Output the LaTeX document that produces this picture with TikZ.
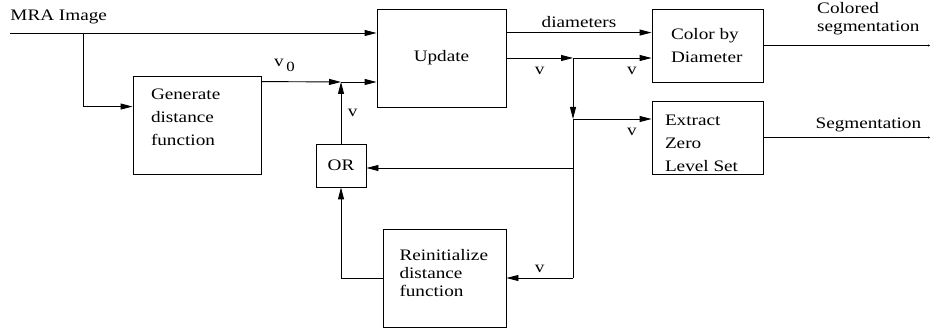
\documentclass[tikz,border=0pt]{standalone}
\usepackage{fontspec}
\setmainfont{Liberation Serif}[FakeStretch=1.2]
\usepackage{tikz}
\usetikzlibrary{arrows.meta, positioning, calc}

\newcommand{\txtbloc}[3]{\raisebox{#1}[\height][\depth]{\parbox{#2}{\raggedright #3}}}

\tikzset{
  blok/.style={draw, inner ysep=0pt},
  fleche/.style={-{Triangle[length=12pt,width=6pt]}},
  sortie/.style={-{Stealth[length=2pt,width=2pt]}},
}

\begin{document}
\begin{tikzpicture}[x=1pt, y=-1pt, line width=0.9pt, font=\fontsize{16}{23}\selectfont]
	\useasboundingbox (0,0) rectangle (931,331);

	% blocs
	\node[blok, inner xsep=18pt, minimum height=98pt] (gen) at (197,125) {\txtbloc{8pt}{92pt}{Generate\\distance\\function}};
	\node[blok, minimum width=129pt, minimum height=98pt, inner sep=0pt] (upd) at (441.5,58) {Update};
	\node[blok, minimum width=50pt, minimum height=43pt, inner sep=0pt] (or) at (341,165.5) {OR};
	\node[blok, inner xsep=19pt, minimum height=73pt] (col) at (707.5,45.5) {\txtbloc{0pt}{73pt}{Color by\\Diameter}};
	\node[blok, inner xsep=13pt, minimum height=73pt] (ext) at (707.5,137.5) {\txtbloc{-6pt}{85pt}{Extract\\Zero\\Level Set}};
	\node[blok, inner xsep=16.5pt, minimum height=98pt, font=\fontsize{16}{18}\selectfont] (rei) at (444.5,278) {\txtbloc{5pt}{90pt}{Reinitialize\\distance\\function}};

	% points de jonction
	\node[anchor=base west, inner sep=0pt] (mra) at (10,21) {MRA Image};
	\coordinate (src) at (10,33);
	\coordinate (br) at (83,33);
	\coordinate (jn) at (341,82);
	\coordinate (sp) at (573,58);
	\coordinate (sp2) at (573,119);
	\coordinate (sp3) at (573,168);
	\coordinate (sp4) at (573,278);
	\coordinate (fin) at (930,46);

	% entree
	\draw[fleche] (src) -- (src -| upd.west);
	\draw[fleche] (br) |- ($(gen.north west)+(0,31)$);

	% v0 et boucle OR
	\draw[fleche] ($(gen.north east)+(0,6)$) -- (jn)
		node[pos=0.29, above=6pt] {v\raisebox{-5pt}{\,\fontsize{14}{14}\selectfont 0}};
	\draw[fleche] (jn) -- (jn -| upd.west);
	\draw[fleche] (or.north) -- (jn) node[midway, right=3pt] {v};

	% sorties de Update
	\draw[fleche] ($(upd.north east)+(0,24)$) -- ($(col.north west)+(0,24)$)
		node[midway, above=1pt] {diameters};
	\draw[fleche] (upd.east) -- (sp) node[midway, below=5pt] {v};
	\draw[fleche] (sp) -- (sp -| col.west) node[pos=0.75, below=5pt] {v};
	\draw[fleche] (sp) -- (sp2);
	\draw[fleche] (sp2) -- (sp2 -| ext.west) node[pos=0.75, below=5pt] {v};
	\draw (sp2) -- (sp4);
	\draw[fleche] (sp3) -- (sp3 -| or.east);
	\draw[fleche] (sp4) -- (rei.east) node[midway, above=2pt] {v};
	\draw[fleche] (rei.west) -| (or.south);

	% resultats
	\draw[sortie] (col.east) -- (col.east -| fin)
		node[pos=0.63, above=7pt, align=left, font=\fontsize{16}{18}\selectfont] {Colored\\segmentation};
	\draw[sortie] (ext.east) -- (ext.east -| fin)
		node[pos=0.63, above=2pt] {Segmentation};
\end{tikzpicture}
\end{document}
